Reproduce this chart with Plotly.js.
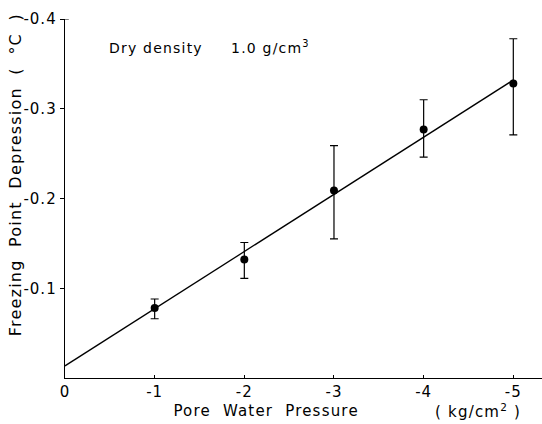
<!DOCTYPE html>
<html>
<head>
<meta charset="utf-8">
<script src="https://cdn.plot.ly/plotly-3.0.1.min.js"></script>
<style>
html,body{margin:0;padding:0;background:#fff;}
#chart{width:542px;height:424px;}
#chart .annotation-text{letter-spacing:1.2px;}
#chart .xtick text, #chart .ytick text{letter-spacing:1px;}
</style>
</head>
<body>
<div id="chart"></div>
<script>
// Data
const pressure = [-1, -2, -3, -4, -5];                       // kg/cm2
const depression = [-0.078, -0.132, -0.209, -0.277, -0.328]; // deg C
const errTop = [-0.088, -0.151, -0.259, -0.310, -0.378];     // upper end of bar (more depression)
const errBottom = [-0.066, -0.111, -0.155, -0.246, -0.271];  // lower end of bar
const fitX = [0, -5];
const fitY = [-0.0135, -0.332];
const xTickVals = [0, -1, -2, -3, -4, -5];
const xTickText = ['0', '-1', '-2', '-3', '-4', '-5'];
const yTickVals = [-0.1, -0.2, -0.3, -0.4];
const yTickText = ['-0.1', '-0.2', '-0.3', '-0.4'];

const FONT = 'DejaVu Sans, sans-serif';

const plus = depression.map((v, i) => errBottom[i] - v);
const minus = depression.map((v, i) => v - errTop[i]);

const traces = [
  {
    x: fitX, y: fitY, mode: 'lines', type: 'scatter',
    line: {color: '#000', width: 1.3}, hoverinfo: 'skip', showlegend: false
  },
  {
    x: pressure, y: depression, mode: 'markers', type: 'scatter',
    marker: {color: '#000', size: 8},
    error_y: {type: 'data', symmetric: false, array: plus, arrayminus: minus,
              color: '#000', thickness: 1.2, width: 4},
    showlegend: false
  }
];

const layout = {
  width: 542, height: 424,
  margin: {l: 65, r: 0, t: 19, b: 46},
  paper_bgcolor: '#fff', plot_bgcolor: '#fff',
  font: {family: FONT, color: '#000', size: 14},
  xaxis: {
    range: [0, -5.32], showgrid: false, zeroline: false,
    showline: true, linecolor: '#000', linewidth: 1.3,
    ticks: 'inside', ticklen: 3, tickcolor: '#000', tickwidth: 1,
    tickvals: xTickVals, ticktext: xTickText,
    tickfont: {family: FONT, size: 15, color: '#000'}
  },
  yaxis: {
    range: [0, -0.4], showgrid: false, zeroline: false,
    showline: true, linecolor: '#000', linewidth: 1.3,
    ticks: 'outside', ticklen: 4, tickcolor: '#000', tickwidth: 1,
    tickvals: yTickVals, ticktext: yTickText,
    tickfont: {family: FONT, size: 15, color: '#000'}
  },
  shapes: [
    {type: 'line', xref: 'paper', yref: 'y', x0: 0, x1: 0.008, y0: -0.4, y1: -0.4,
     line: {color: '#000', width: 1}}
  ],
  annotations: [
    {text: 'Dry density&nbsp;&nbsp;&nbsp;&nbsp; 1.0 g/cm<sup>3</sup>', xref: 'paper', yref: 'paper',
     x: (122 - 65) / 477, y: (378 - 47) / 359, xanchor: 'left', yanchor: 'middle',
     showarrow: false, font: {family: FONT, size: 14, color: '#000'}},
    {text: 'Pore&nbsp; Water&nbsp; Pressure', xref: 'paper', yref: 'paper',
     x: (266 - 65) / 477, y: (378 - 411) / 359, xanchor: 'center', yanchor: 'middle',
     showarrow: false, font: {family: FONT, size: 15, color: '#000'}},
    {text: '( kg/cm<sup>2</sup> )', xref: 'paper', yref: 'paper',
     x: (478 - 65) / 477, y: (378 - 411) / 359, xanchor: 'center', yanchor: 'middle',
     showarrow: false, font: {family: FONT, size: 15, color: '#000'}},
    {text: 'Freezing&nbsp; Point&nbsp; Depression&nbsp; (&nbsp; °C&nbsp; )', xref: 'paper', yref: 'paper',
     x: (15 - 65) / 477, y: (378 - 175) / 359, xanchor: 'center', yanchor: 'middle', textangle: -90,
     showarrow: false, font: {family: FONT, size: 16, color: '#000'}}
  ]
};

Plotly.newPlot('chart', traces, layout, {displayModeBar: false, staticPlot: true});
</script>
</body>
</html>
